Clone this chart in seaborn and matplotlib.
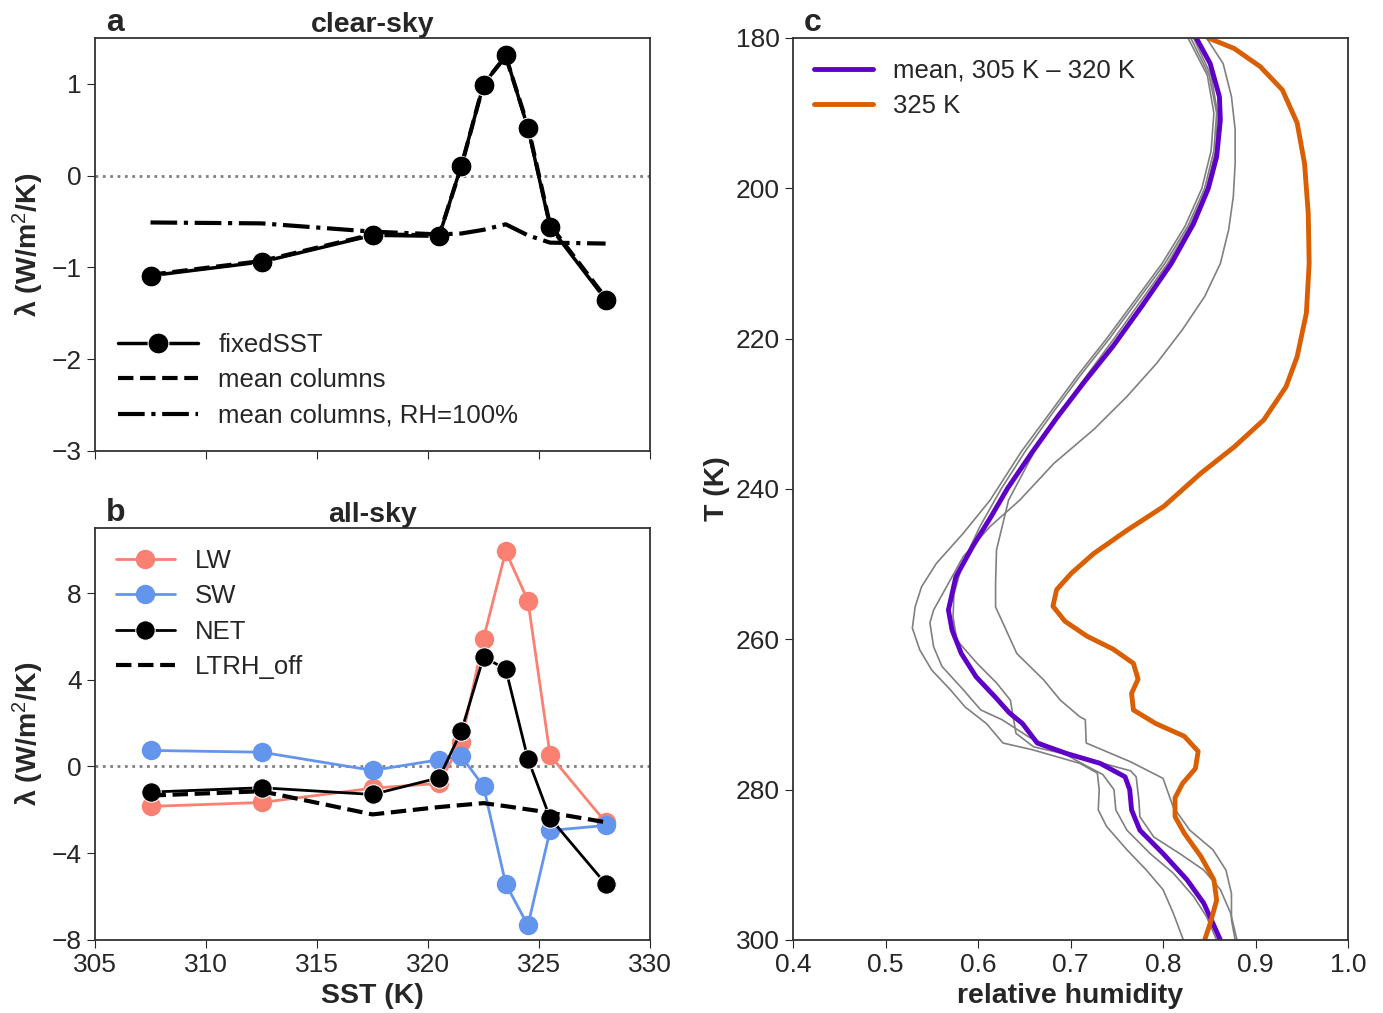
import numpy as np
import pandas as pd
import matplotlib
matplotlib.use("Agg")
import matplotlib.pyplot as plt
import seaborn as sns

# ---- panel a / b : feedback parameter vs SST ----
sst = [307.5, 312.5, 317.5, 320.5, 321.5, 322.5, 323.5, 324.5, 325.5, 328.0]

clr_fixed = [-1.09, -0.94, -0.65, -0.66, 0.11, 0.99, 1.31, 0.52, -0.56, -1.35]
clr_mean = [-1.08, -0.93, -0.64, -0.65, 0.10, 1.00, 1.30, 0.54, -0.54, -1.33]
clr_rh100 = [-0.51, -0.52, -0.61, -0.64, -0.63, -0.59, -0.53, -0.65, -0.73, -0.74]

all_lw = [-1.84, -1.66, -1.00, -0.78, 1.12, 5.90, 9.92, 7.65, 0.51, -2.57]
all_sw = [0.74, 0.66, -0.18, 0.31, 0.47, -0.91, -5.41, -7.33, -2.95, -2.72]
all_net = [-1.18, -0.98, -1.29, -0.52, 1.63, 5.04, 4.50, 0.35, -2.38, -5.41]
all_ltrh = [-1.34, -1.14, -2.21, -1.87, -1.78, -1.69, -1.83, -1.98, -2.13, -2.57]

# ---- panel c : relative humidity profiles ----
t_mean = [180, 183.4, 187.8, 190.9, 195.8, 200, 204.7, 210, 215.7, 221, 225.9, 230.4,
          235.2, 239.9, 243.7, 247.7, 251.7, 256.1, 258.8, 261.9, 265.0, 267.6, 269.8,
          271.2, 273.8, 275.2, 276.5, 278.3, 280, 282.7, 285.4, 288.5, 292, 295.1,
          297.8, 300]
rh_mean = [0.836, 0.851, 0.861, 0.862, 0.858, 0.849, 0.833, 0.809, 0.777, 0.746, 0.714,
           0.686, 0.658, 0.632, 0.614, 0.594, 0.576, 0.568, 0.572, 0.582, 0.598, 0.618,
           0.634, 0.648, 0.664, 0.696, 0.732, 0.759, 0.764, 0.766, 0.775, 0.800, 0.826,
           0.844, 0.854, 0.862]

t_325 = [180, 181.4, 183.8, 186.9, 191.3, 196.7, 203.3, 210, 216.6, 222.4, 226.4, 230.8,
         234.4, 237.9, 242.3, 245.5, 248.6, 251.2, 253.4, 255.6, 257.6, 259.6, 261.3,
         263.2, 265.3, 267.2, 269.4, 271.2, 272.9, 274.9, 277.2, 279.2, 281.1, 283.6,
         285.8, 288.9, 292, 294.7, 297.8, 300]
rh_325 = [0.849, 0.877, 0.905, 0.929, 0.945, 0.953, 0.957, 0.958, 0.955, 0.945, 0.933,
          0.909, 0.877, 0.841, 0.801, 0.761, 0.725, 0.701, 0.685, 0.681, 0.694, 0.718,
          0.746, 0.768, 0.773, 0.766, 0.768, 0.792, 0.823, 0.838, 0.835, 0.821, 0.813,
          0.813, 0.823, 0.841, 0.855, 0.858, 0.851, 0.845]

t_g1 = [180, 185, 190, 195, 200, 205, 210, 215, 220, 225, 230, 235, 241.5, 245.9, 249.9,
        253, 255.7, 258.5, 261.4, 264.1, 266.7, 269, 271.2, 273.8, 274.7, 276.5, 277.8,
        280, 282.7, 284.9, 288, 290.7, 293.3, 296.4, 300]
rh_g1 = [0.827, 0.848, 0.855, 0.852, 0.842, 0.824, 0.799, 0.769, 0.739, 0.707, 0.677,
         0.647, 0.613, 0.584, 0.555, 0.539, 0.532, 0.529, 0.537, 0.550, 0.570, 0.586,
         0.609, 0.627, 0.659, 0.710, 0.729, 0.731, 0.730, 0.739, 0.761, 0.782, 0.800,
         0.811, 0.822]

t_g2 = [180, 183.4, 187.8, 192.2, 196.7, 201.1, 205.5, 210, 214.4, 218.8, 223.3, 227.7,
        232.1, 236.6, 241.5, 245, 249, 253, 256.1, 257.8, 261, 263.6, 266.7, 269.4,
        270.7, 273, 275, 276.5, 278, 280, 282.7, 285.4, 288.5, 291.1, 294.2, 296.9, 300]
rh_g2 = [0.847, 0.865, 0.874, 0.878, 0.878, 0.876, 0.871, 0.862, 0.845, 0.821, 0.793,
         0.761, 0.725, 0.682, 0.645, 0.613, 0.584, 0.566, 0.552, 0.548, 0.552, 0.561,
         0.584, 0.603, 0.626, 0.655, 0.690, 0.712, 0.735, 0.747, 0.749, 0.761, 0.786,
         0.811, 0.833, 0.847, 0.858]

t_g3 = [180, 185, 190, 195, 200, 205, 210, 215, 220, 225, 230, 235, 240, 245, 250, 254,
        257, 260.1, 263.2, 265.8, 268.1, 272.5, 274.3, 276, 277.5, 278.3, 281.5, 283.6,
        286.3, 288.5, 290.7, 293.3, 296.4, 300]
rh_g3 = [0.830, 0.850, 0.858, 0.855, 0.845, 0.827, 0.802, 0.772, 0.742, 0.710, 0.680,
         0.651, 0.625, 0.602, 0.583, 0.574, 0.573, 0.577, 0.599, 0.620, 0.635, 0.641,
         0.660, 0.720, 0.765, 0.771, 0.774, 0.775, 0.790, 0.818, 0.844, 0.862, 0.873,
         0.880]

t_g4 = [180, 185, 190, 195, 200, 205, 210, 215, 220, 225, 230, 235, 241.5, 248.1, 252.5,
        255.7, 261.9, 265.4, 268.1, 270.3, 270.7, 273.8, 276.3, 278.5, 282.3, 285.4, 288,
        290.7, 293.8, 297.3, 300]
rh_g4 = [0.833, 0.852, 0.859, 0.857, 0.847, 0.829, 0.805, 0.776, 0.747, 0.717, 0.688,
         0.661, 0.633, 0.620, 0.619, 0.619, 0.642, 0.671, 0.689, 0.710, 0.716, 0.717,
         0.765, 0.800, 0.811, 0.829, 0.854, 0.868, 0.874, 0.874, 0.878]

grays = [(t_g1, rh_g1), (t_g2, rh_g2), (t_g3, rh_g3), (t_g4, rh_g4)]

sns.set_style("ticks")
plt.rcParams["font.family"] = ["Liberation Sans", "DejaVu Sans"]
plt.rcParams["mathtext.fontset"] = "custom"
plt.rcParams["mathtext.rm"] = "Liberation Sans"
plt.rcParams["mathtext.it"] = "Liberation Sans:italic"
plt.rcParams["mathtext.bf"] = "Liberation Sans:bold"
plt.rcParams["xtick.major.size"] = 6
plt.rcParams["ytick.major.size"] = 6
plt.rcParams["axes.edgecolor"] = "#333333"
plt.rcParams["axes.linewidth"] = 1.3

fig = plt.figure(figsize=(13.83, 10.13), dpi=100)
ax_a = fig.add_axes([0.0687, 0.5548, 0.4013, 0.4077])
ax_b = fig.add_axes([0.0687, 0.0721, 0.4013, 0.4067])
ax_c = fig.add_axes([0.5734, 0.0721, 0.4013, 0.8904])

tick_fs = 19
lab_fs = 20.5
leg_fs = 18.5

# panel a
ax_a.axhline(0, color="gray", ls=":", lw=2)
sns.lineplot(x=sst, y=clr_fixed, ax=ax_a, color="black", lw=2.5, marker="o",
             markersize=15, label="fixedSST")
sns.lineplot(x=sst, y=clr_mean, ax=ax_a, color="black", lw=3, linestyle="--",
             label="mean columns")
sns.lineplot(x=sst, y=clr_rh100, ax=ax_a, color="black", lw=3, linestyle="-.",
             label="mean columns, RH=100%")
ax_a.set_xlim(305, 330)
ax_a.set_ylim(-3, 1.5)
ax_a.set_yticks([-3, -2, -1, 0, 1])
ax_a.set_xticks([305, 310, 315, 320, 325, 330])
ax_a.set_xticklabels([])
ax_a.set_ylabel("λ (W/m$^2$/K)", fontsize=lab_fs, fontweight="bold")
ax_a.set_title("clear-sky", fontsize=lab_fs, fontweight="bold", pad=3)
ax_a.tick_params(labelsize=tick_fs)
ax_a.legend(loc="lower left", frameon=False, fontsize=leg_fs, handlelength=3.1,
            labelspacing=0.45, borderaxespad=0.5)

# panel b
ax_b.axhline(0, color="gray", ls=":", lw=2)
sns.lineplot(x=sst, y=all_lw, ax=ax_b, color="salmon", lw=2, marker="o",
             markersize=14, markeredgewidth=0, label="LW")
sns.lineplot(x=sst, y=all_sw, ax=ax_b, color="cornflowerblue", lw=2, marker="o",
             markersize=14, markeredgewidth=0, label="SW")
sns.lineplot(x=sst, y=all_net, ax=ax_b, color="black", lw=2, marker="o",
             markersize=14, label="NET")
sns.lineplot(x=sst, y=all_ltrh, ax=ax_b, color="black", lw=3, linestyle="--",
             label="LTRH_off")
ax_b.set_xlim(305, 330)
ax_b.set_ylim(-8, 11)
ax_b.set_yticks([-8, -4, 0, 4, 8])
ax_b.set_xticks([305, 310, 315, 320, 325, 330])
ax_b.set_xlabel("SST (K)", fontsize=lab_fs, fontweight="bold")
ax_b.set_ylabel("λ (W/m$^2$/K)", fontsize=lab_fs, fontweight="bold")
ax_b.set_title("all-sky", fontsize=lab_fs, fontweight="bold", pad=3)
ax_b.tick_params(labelsize=tick_fs)
ax_b.legend(loc="upper left", frameon=False, fontsize=leg_fs, handlelength=2.3,
            labelspacing=0.45, borderaxespad=0.4)

# panel c
for t, rh in grays:
    sns.lineplot(x=rh, y=t, ax=ax_c, color="gray", lw=1.2, sort=False, estimator=None)
sns.lineplot(x=rh_mean, y=t_mean, ax=ax_c, color="#5f00c8", lw=3.5, sort=False,
             estimator=None, label="mean, 305 K \u2013 320 K")
sns.lineplot(x=rh_325, y=t_325, ax=ax_c, color="#d95f02", lw=3.5, sort=False,
             estimator=None, label="325 K")
ax_c.set_xlim(0.4, 1.0)
ax_c.set_ylim(300, 180)
ax_c.set_yticks([180, 200, 220, 240, 260, 280, 300])
ax_c.set_xticks([0.4, 0.5, 0.6, 0.7, 0.8, 0.9, 1.0])
ax_c.set_xlabel("relative humidity", fontsize=lab_fs, fontweight="bold")
ax_c.set_ylabel("T (K)", fontsize=lab_fs, fontweight="bold")
ax_c.tick_params(labelsize=tick_fs)
ax_c.legend(loc="upper left", frameon=False, fontsize=leg_fs, handlelength=2.3,
            labelspacing=0.45, borderaxespad=0.4)

# panel letters
for ax, letter in [(ax_a, "a"), (ax_b, "b"), (ax_c, "c")]:
    ax.text(0.02, 1.0, letter, transform=ax.transAxes, fontsize=23,
            fontweight="bold", va="bottom", ha="left")

fig.savefig("out.png", dpi=100)
